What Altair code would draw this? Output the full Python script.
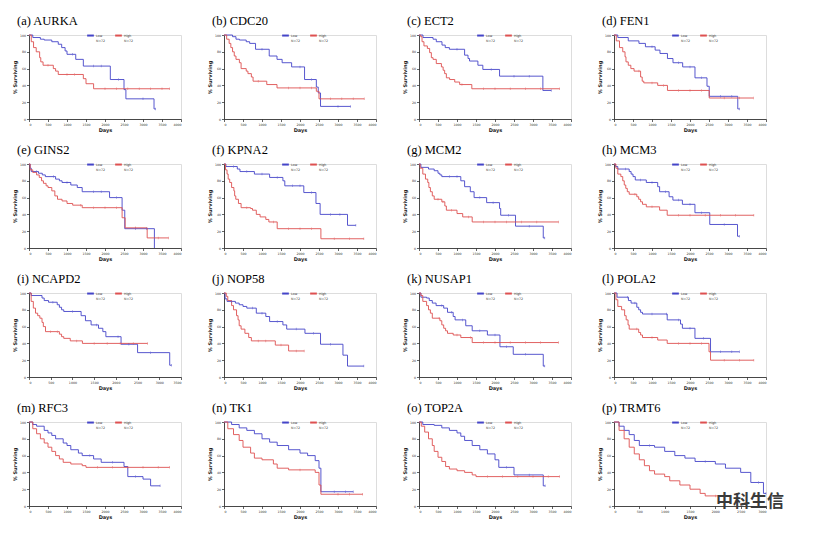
import altair as alt
import pandas as pd

BLUE = "#4444c8"
RED = "#de5050"

TITLES = ["(a) AURKA", "(b) CDC20", "(c) ECT2", "(d) FEN1",
          "(e) GINS2", "(f) KPNA2", "(g) MCM2", "(h) MCM3",
          "(i) NCAPD2", "(j) NOP58", "(k) NUSAP1", "(l) POLA2",
          "(m) RFC3", "(n) TK1", "(o) TOP2A", "(p) TRMT6"]
X_MAX = [4000, 4000, 4000, 4000,
         4000, 4000, 4000, 4000,
         3500, 4000, 4000, 4000,
         4000, 4000, 4000, 3000]
GROUPS = ["Low", "High"]
GROUP_N = ["N=72", "N=72"]
WATERMARK = "中科生信"

# Kaplan-Meier curves: [days, % surviving]; a repeated value marks a censored case
AURKA_LOW = [[0,100],[100,97],[300,95],[400,94],[600,92],[770,89],[860,85],[950,81],[1000,77],[1150,77],[1230,71],[1430,63],[1700,63],[1900,63],[2140,47],[2350,47],[2500,35],[2550,24],[3000,24],[3290,12],[3330,12]]
AURKA_HIGH = [[0,100],[60,92],[120,85],[190,80],[280,73],[310,68],[370,64],[500,64],[640,60],[700,57],[770,53],[1000,53],[1200,53],[1430,48],[1500,42],[1700,36],[2000,36],[2300,36],[2600,36],[2900,36],[3200,36],[3500,36],[3700,36]]
CDC20_LOW = [[0,100],[225,98],[315,95],[405,94],[585,92],[675,90],[830,83],[1000,83],[1190,75],[1395,71],[1530,67],[1780,62],[2000,62],[2120,47],[2300,47],[2430,38],[2480,31],[2540,15],[3000,15],[3330,15]]
CDC20_HIGH = [[0,100],[70,95],[135,90],[180,85],[225,80],[270,75],[315,71],[405,67],[450,60],[585,57],[630,54],[720,50],[765,45],[900,45],[1125,41],[1395,37],[1700,37],[2000,37],[2300,37],[2430,33],[2500,24],[2800,24],[3100,24],[3400,24],[3690,24]]
ECT2_LOW = [[0,100],[105,97],[370,95],[455,92],[605,88],[690,85],[800,83],[1000,83],[1200,76],[1290,72],[1330,69],[1550,64],[1680,59],[1900,59],[2120,51],[2500,51],[2900,51],[3260,34],[3480,34]]
ECT2_HIGH = [[0,100],[45,98],[80,92],[130,87],[220,84],[280,79],[325,73],[370,71],[455,66],[590,62],[635,58],[675,54],[720,49],[805,47],[940,44],[1070,41],[1130,41],[1390,36],[1700,36],[2000,36],[2400,36],[2800,36],[3200,36],[3700,36]]
FEN1_LOW = [[0,100],[100,97],[375,93],[656,90],[827,86],[1000,86],[1083,82],[1210,78],[1407,72],[1552,67],[1700,67],[1807,62],[2000,62],[2131,49],[2300,49],[2447,39],[2506,27],[2800,27],[3100,27],[3257,12],[3300,12]]
FEN1_HIGH = [[0,100],[60,93],[145,85],[230,80],[290,74],[315,68],[375,64],[443,60],[528,57],[656,57],[700,50],[742,45],[784,43],[1000,43],[1150,40],[1300,40],[1407,34],[1700,34],[2000,34],[2300,34],[2506,25],[2900,25],[3300,25],[3666,25]]
GINS2_LOW = [[0,100],[30,95],[60,91],[200,91],[250,89],[350,87],[430,85],[650,85],[700,82],[800,80],[870,78],[1000,78],[1100,75],[1270,72],[1400,67],[1700,67],[1900,67],[2120,60],[2300,60],[2450,45],[2520,23],[2800,23],[3100,23],[3300,0]]
GINS2_HIGH = [[0,100],[30,93],[100,90],[200,87],[270,84],[330,80],[380,77],[450,74],[500,72],[600,68],[680,62],[750,58],[870,56],[1000,53],[1150,51],[1350,51],[1400,48],[1700,48],[2000,48],[2300,48],[2450,36],[2530,24],[2800,24],[3110,12],[3400,12],[3670,12]]
KPNA2_LOW = [[0,100],[50,97],[250,97],[350,94],[420,91],[600,91],[800,88],[1000,88],[1200,84],[1400,84],[1550,80],[1600,74],[1800,74],[2000,74],[2100,66],[2300,66],[2420,53],[2530,40],[2800,40],[3050,40],[3250,27],[3470,27]]
KPNA2_HIGH = [[0,100],[40,93],[80,88],[110,82],[150,78],[200,72],[260,68],[280,62],[310,58],[380,53],[450,48],[600,48],[700,47],[750,45],[850,40],[950,37],[1100,34],[1180,31],[1300,31],[1400,23],[1700,23],[2000,23],[2300,23],[2550,11],[2900,11],[3300,11],[3680,11]]
MCM2_LOW = [[0,100],[50,96],[250,94],[400,92],[500,89],[550,87],[600,85],[800,85],[1000,85],[1100,80],[1200,73],[1350,67],[1450,60],[1600,60],[1780,54],[1950,54],[2120,47],[2150,39],[2350,39],[2540,26],[2900,26],[3270,12],[3310,12]]
MCM2_HIGH = [[0,100],[30,95],[100,88],[170,82],[230,78],[260,72],[300,67],[350,62],[400,58],[500,58],[600,55],[630,55],[680,50],[720,45],[850,45],[1000,41],[1150,37],[1300,37],[1400,31],[1700,31],[2000,31],[2300,31],[2700,31],[3100,31],[3670,31]]
MCM3_LOW = [[0,100],[40,97],[100,94],[300,94],[400,91],[450,88],[500,85],[560,81],[700,81],[850,78],[1000,78],[1150,73],[1200,67],[1350,67],[1450,61],[1550,57],[1700,57],[1800,52],[2000,52],[2130,42],[2300,42],[2520,28],[2900,28],[3250,14],[3300,14]]
MCM3_HIGH = [[0,100],[50,95],[100,88],[180,85],[230,80],[270,75],[310,71],[350,67],[400,64],[550,64],[600,61],[650,58],[700,55],[750,52],[850,49],[1000,49],[1200,45],[1400,39],[1700,39],[2000,39],[2400,39],[2800,39],[3200,39],[3680,39]]
NCAPD2_LOW = [[0,100],[50,97],[300,94],[350,91],[450,89],[550,89],[650,86],[700,83],[750,80],[800,78],[1000,78],[1200,73],[1300,67],[1430,62],[1550,62],[1600,58],[1700,54],[1770,48],[2050,48],[2120,39],[2300,39],[2500,29],[2800,29],[3240,14],[3280,14]]
NCAPD2_HIGH = [[0,100],[50,90],[100,82],[150,76],[200,73],[250,70],[300,65],[330,60],[380,54],[500,54],[650,54],[700,51],[750,48],[800,46],[950,43],[1100,43],[1230,40],[1500,40],[1800,40],[2100,40],[2400,40],[2730,40]]
NOP58_LOW = [[0,100],[30,93],[80,90],[200,90],[300,88],[400,86],[500,84],[600,82],[750,82],[850,76],[1000,76],[1100,72],[1200,66],[1400,66],[1550,62],[1650,57],[1900,57],[2130,52],[2350,52],[2540,39],[2800,39],[3130,26],[3250,13],[3680,13]]
NOP58_HIGH = [[0,100],[60,96],[100,91],[200,85],[250,80],[330,73],[370,68],[400,61],[450,57],[550,52],[650,47],[720,43],[900,43],[1100,43],[1350,38],[1500,38],[1700,31],[1900,31],[2110,31]]
NUSAP1_LOW = [[0,100],[50,95],[200,94],[270,91],[350,88],[450,85],[600,85],[650,82],[750,77],[850,77],[900,72],[950,68],[1150,68],[1230,61],[1400,55],[1600,55],[1800,50],[2000,50],[2130,36],[2300,36],[2480,27],[2800,27],[3270,13],[3310,13]]
NUSAP1_HIGH = [[0,100],[50,97],[100,90],[200,85],[250,80],[300,76],[350,70],[530,70],[550,67],[600,62],[650,58],[700,55],[750,52],[900,50],[1000,50],[1100,47],[1350,47],[1400,41],[1700,41],[2000,41],[2400,41],[2800,41],[3200,41],[3670,41]]
POLA2_LOW = [[0,100],[80,95],[350,95],[380,91],[450,88],[550,88],[600,83],[650,80],[700,77],[750,75],[1000,75],[1380,75],[1400,68],[1700,68],[1750,63],[1800,58],[2000,58],[2130,46],[2350,46],[2540,30],[2800,30],[3100,30],[3300,30]]
POLA2_HIGH = [[0,100],[50,92],[100,84],[200,80],[280,73],[320,68],[370,62],[400,57],[600,57],[650,53],[700,50],[750,47],[1000,47],[1150,44],[1400,40],[1700,40],[2000,40],[2300,40],[2500,30],[2540,20],[2900,20],[3300,20],[3680,20]]
RFC3_LOW = [[0,100],[100,97],[200,95],[400,90],[500,87],[600,84],[700,80],[900,75],[1000,72],[1100,67],[1300,63],[1400,60],[1600,60],[1700,56],[1900,52],[2200,52],[2500,47],[2600,35],[2800,35],[3000,32],[3200,24],[3450,24]]
RFC3_HIGH = [[0,100],[100,92],[200,86],[300,80],[400,75],[500,70],[600,65],[700,60],[800,56],[900,52],[1100,50],[1400,48],[1500,46],[1800,46],[2200,46],[2600,46],[3000,46],[3400,46],[3700,46]]
TK1_LOW = [[0,100],[200,97],[400,93],[600,90],[800,86],[1000,80],[1200,76],[1400,72],[1700,67],[2000,63],[2200,60],[2400,54],[2500,45],[2550,17],[2900,17],[3200,17],[3400,17]]
TK1_HIGH = [[0,100],[100,92],[250,85],[400,78],[500,70],[700,63],[800,57],[1000,55],[1300,50],[1400,45],[1700,43],[2000,43],[2400,40],[2500,25],[2550,14],[3000,14],[3300,14],[3650,14]]
TOP2A_LOW = [[0,100],[100,97],[400,96],[600,93],[800,90],[1000,87],[1100,83],[1200,78],[1400,72],[1600,67],[1800,62],[2000,55],[2100,46],[2300,46],[2500,37],[2900,37],[3270,24],[3320,24]]
TOP2A_HIGH = [[0,100],[60,95],[150,88],[250,80],[350,72],[400,65],[500,58],[600,53],[700,47],[800,44],[1000,42],[1200,40],[1400,37],[1500,35],[1800,35],[2200,35],[2600,35],[3000,35],[3400,35],[3700,35]]
TRMT6_LOW = [[0,100],[100,95],[200,90],[300,85],[400,78],[500,72],[700,72],[800,70],[1000,65],[1200,60],[1400,57],[1600,53],[1800,53],[2000,50],[2200,45],[2500,40],[2700,28],[2850,28],[2950,15],[3000,15]]
TRMT6_HIGH = [[0,100],[100,90],[200,80],[300,70],[400,62],[500,55],[600,48],[700,42],[800,38],[1000,35],[1100,30],[1300,25],[1500,20],[1700,15],[1800,12],[2000,12],[2300,12]]

CURVES = [
    (AURKA_LOW, AURKA_HIGH), (CDC20_LOW, CDC20_HIGH), (ECT2_LOW, ECT2_HIGH), (FEN1_LOW, FEN1_HIGH),
    (GINS2_LOW, GINS2_HIGH), (KPNA2_LOW, KPNA2_HIGH), (MCM2_LOW, MCM2_HIGH), (MCM3_LOW, MCM3_HIGH),
    (NCAPD2_LOW, NCAPD2_HIGH), (NOP58_LOW, NOP58_HIGH), (NUSAP1_LOW, NUSAP1_HIGH), (POLA2_LOW, POLA2_HIGH),
    (RFC3_LOW, RFC3_HIGH), (TK1_LOW, TK1_HIGH), (TOP2A_LOW, TOP2A_HIGH), (TRMT6_LOW, TRMT6_HIGH),
]

PW, PH = 152, 84
AX = dict(labelFont="DejaVu Sans", labelFontSize=3.2, labelColor="#333",
          titleFont="DejaVu Sans", titleFontSize=5, titleFontWeight="bold", titleColor="#222",
          grid=False, domainColor="#222", tickColor="#222", tickSize=2.5,
          domainWidth=0.8, tickWidth=0.7, labelPadding=1, titlePadding=1.5)


def panel(i):
    rows = []
    for g, pts in zip(GROUPS, CURVES[i]):
        prev = None
        for k, (t, s) in enumerate(pts):
            rows.append({"t": t, "s": s, "group": g, "k": k,
                         "censor": prev is not None and s == prev})
            prev = s
    df = pd.DataFrame(rows)
    xmax = X_MAX[i]
    x = alt.X("t:Q", scale=alt.Scale(domain=[0, xmax], nice=False),
              axis=alt.Axis(values=list(range(0, xmax + 1, 500)), title="Days", format="d", **AX))
    y = alt.Y("s:Q", scale=alt.Scale(domain=[0, 100], nice=False),
              axis=alt.Axis(values=[0, 20, 40, 60, 80, 100], title="% Surviving", format="d",
                            minExtent=10, **AX))
    label_expr = ("datum.label == 'Low' ? ['Low', '%s'] : ['High', '%s']" % (GROUP_N[0], GROUP_N[1]))
    cscale = alt.Scale(domain=GROUPS, range=[BLUE, RED])
    color = alt.Color("group:N", scale=cscale,
                      legend=alt.Legend(title=None, orient="none", direction="horizontal",
                                        legendX=57, legendY=-4, symbolType="stroke",
                                        symbolStrokeWidth=2, symbolSize=45,
                                        labelFontSize=3.2, labelFont="DejaVu Sans",
                                        labelColor="#333",
                                        labelExpr=label_expr, columnPadding=5,
                                        labelOffset=1, labelLimit=40, padding=0))
    line = alt.Chart(df).mark_line(interpolate="step-after", strokeWidth=0.9).encode(
        x=x, y=y, color=color, order="k:Q")
    ticks = alt.Chart(df).transform_filter("datum.censor").mark_tick(
        orient="vertical", size=2.5, thickness=0.6).encode(
        x=x, y=y, color=alt.Color("group:N", scale=cscale, legend=None))
    layers = [line, ticks]
    if i == 15:
        wm = alt.Chart(pd.DataFrame({"w": [WATERMARK]})).mark_text(
            font="Noto Sans CJK SC", fontSize=17, fontWeight="bold", color="#3a3a3a",
            align="left", baseline="middle").encode(
            text="w:N", x=alt.value(102), y=alt.value(80))
        layers.append(wm)
    return alt.layer(*layers).properties(
        width=PW, height=PH,
        title=alt.TitleParams(TITLES[i], anchor="start", frame="group", dx=-12,
                              font="Liberation Serif, Times New Roman, serif", fontSize=12.5,
                              fontWeight="normal", color="black", offset=4))


rows = []
for r in range(4):
    rows.append(alt.hconcat(*[panel(4 * r + c) for c in range(4)], spacing=25)
                .resolve_scale(color="independent"))

chart = alt.vconcat(*rows, spacing=10).resolve_scale(color="independent").configure_view(
    stroke=None
).configure(padding={"left": 4, "top": 6, "right": 0, "bottom": 0}, background="white")

chart.save("out.html", embed_options={"renderer": "svg", "actions": False})
